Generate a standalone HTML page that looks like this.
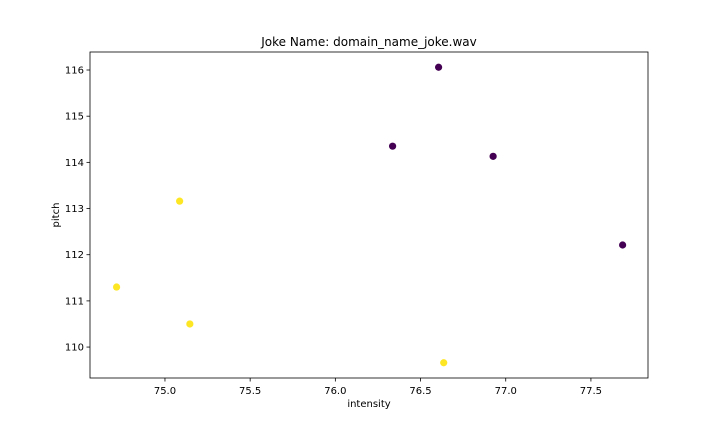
<!DOCTYPE html>
<html><head><meta charset="utf-8"><style>
body{margin:0;background:#fff;font-family:"Liberation Sans","DejaVu Sans",sans-serif;}
</style></head><body>
<svg id="chart" width="720" height="432" xmlns="http://www.w3.org/2000/svg" font-family="DejaVu Sans, Liberation Sans, sans-serif"></svg>
<script>
const intensity=[76.606,76.336,76.926,77.686,75.086,74.716,75.146,76.636];
const pitch=[116.06,114.35,114.13,112.21,113.16,111.30,110.50,109.66];
const group=[0,0,0,0,1,1,1,1];
const xTicks=[75.0,75.5,76.0,76.5,77.0,77.5];
const yTicks=[110,111,112,113,114,115,116];
const L=90,R=648,T=52,B=378;
const xMin=74.56,xMax=77.835,yMin=109.33,yMax=116.39;
const sx=v=>L+(v-xMin)/(xMax-xMin)*(R-L);
const sy=v=>B-(v-yMin)/(yMax-yMin)*(B-T);
const svg=document.getElementById('chart');
const NS='http://www.w3.org/2000/svg';
function mk(t,a,p){const e=document.createElementNS(NS,t);for(const k in a)e.setAttribute(k,a[k]);(p||svg).appendChild(e);return e;}
const colors=['#440154','#fde725'];
intensity.forEach((v,i)=>{
 const c=mk('circle',{cx:sx(v),cy:sy(pitch[i]),r:3.6,fill:colors[group[i]]});
 
 
});
const frame=mk('rect',{x:L,y:T,width:R-L,height:B-T,fill:'none',stroke:'#000','stroke-width':0.8});


xTicks.forEach(v=>{
 const x=sx(v);
 mk('line',{x1:x,x2:x,y1:B,y2:B+3.5,stroke:'#000','stroke-width':0.8});
 const t=mk('text',{x:x,y:B+16,'font-size':10,'text-anchor':'middle'});t.textContent=v.toFixed(1);
 
 
});
yTicks.forEach(v=>{
 const y=sy(v);
 mk('line',{x1:L-3.5,x2:L,y1:y,y2:y,stroke:'#000','stroke-width':0.8});
 const t=mk('text',{x:L-6,y:y+3.5,'font-size':10,'text-anchor':'end'});t.textContent=v;
 
 
});
let t=mk('text',{x:(L+R)/2,y:407,'font-size':10,'text-anchor':'middle'});t.textContent='intensity';


t=mk('text',{x:59,y:(T+B)/2,'font-size':10,'text-anchor':'middle',transform:`rotate(-90 59 ${(T+B)/2})`});t.textContent='pitch';


t=mk('text',{x:(L+R)/2,y:46,'font-size':12,'text-anchor':'middle'});t.textContent='Joke Name: domain_name_joke.wav';


</script>
</body></html>
